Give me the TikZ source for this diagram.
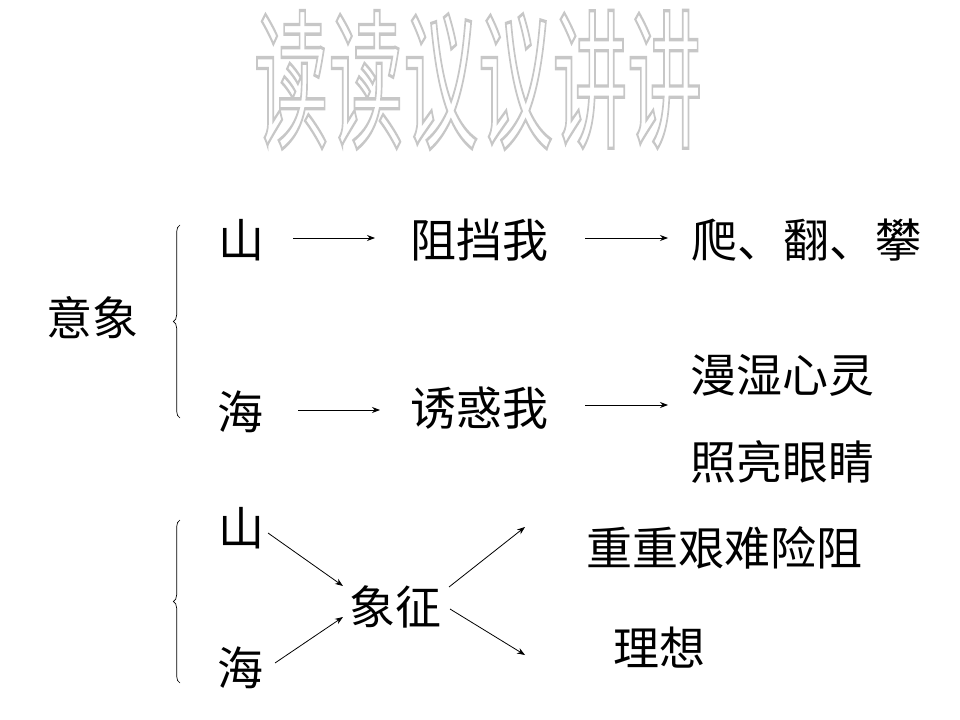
\documentclass[tikz,border=0pt]{standalone}
\usepackage{fontspec}
\newfontfamily\cjk{Noto Sans CJK SC}
\usepackage{xcolor}
\usetikzlibrary{arrows.meta, decorations.pathreplacing}

\newcommand{\outlinetext}[1]{\special{pdf:literal q 1 Tr 1.1 w 0.78 G}#1\special{pdf:literal Q}}

\begin{document}
\begin{tikzpicture}[
    x=0.75pt, y=-0.75pt,
    word/.style={inner sep=0pt, font=\cjk\fontsize{34.5}{38}\selectfont},
    titleword/.style={inner sep=0pt, font=\cjk\fontsize{50}{50}\selectfont, xscale=1.12, yscale=2.25},
    conn/.style={draw=black, line width=0.6pt, -{Stealth[length=6pt, width=4.5pt]}},
    brace/.style={draw=black, line width=0.5pt, decorate, decoration={brace, amplitude=5pt}}
]
    \useasboundingbox (0,0) rectangle (960,720);

    % Title: light grey outline letters
    \node (title) at (478, 80) [titleword] {\outlinetext{读读议议讲讲}};

    % Upper group: 意象
    \node (image) at (92, 318) [word] {意象};
    \coordinate (braceAtop) at (180, 225);
    \coordinate (braceAbot) at (180, 418);
    \draw [brace] (braceAbot) -- (braceAtop);

    \node (shan1) at (241, 240) [word] {山};
    \node (block) at (479, 240) [word] {阻挡我};
    \node (climb) at (806, 240) [word] {爬、翻、攀};
    \node (hai1) at (240, 412) [word] {海};
    \node (lure) at (479, 408) [word] {诱惑我};
    \node (moist) at (782, 375) [word] {漫湿心灵};
    \node (light) at (782, 462) [word] {照亮眼睛};

    \coordinate (shan1start) at (293, 238);
    \coordinate (shan1end) at (375, 238);
    \coordinate (blockstart) at (585, 238);
    \coordinate (blockend) at (668, 238);
    \coordinate (hai1start) at (298, 410);
    \coordinate (hai1end) at (380, 410);
    \coordinate (lurestart) at (585, 405);
    \coordinate (lureend) at (668, 405);

    \draw [conn] (shan1start) -- (shan1end);
    \draw [conn] (blockstart) -- (blockend);
    \draw [conn] (hai1start) -- (hai1end);
    \draw [conn] (lurestart) -- (lureend);

    % Lower group: 象征
    \coordinate (braceBtop) at (180, 520);
    \coordinate (braceBbot) at (180, 683);
    \draw [brace] (braceBbot) -- (braceBtop);

    \node (shan2) at (241, 528) [word] {山};
    \node (hai2) at (240, 668) [word] {海};
    \node (symbol) at (395, 607) [word] {象征};
    \node (hardship) at (724, 548) [word] {重重艰难险阻};
    \node (ideal) at (659, 648) [word] {理想};

    \coordinate (shan2start) at (268, 533);
    \coordinate (shan2end) at (343, 586);
    \coordinate (hai2start) at (275, 663);
    \coordinate (hai2end) at (343, 617);
    \coordinate (upstart) at (449, 587);
    \coordinate (upend) at (525, 527);
    \coordinate (downstart) at (450, 609);
    \coordinate (downend) at (525, 655);

    \draw [conn] (shan2start) -- (shan2end);
    \draw [conn] (hai2start) -- (hai2end);
    \draw [conn] (upstart) -- (upend);
    \draw [conn] (downstart) -- (downend);

\end{tikzpicture}
\end{document}
